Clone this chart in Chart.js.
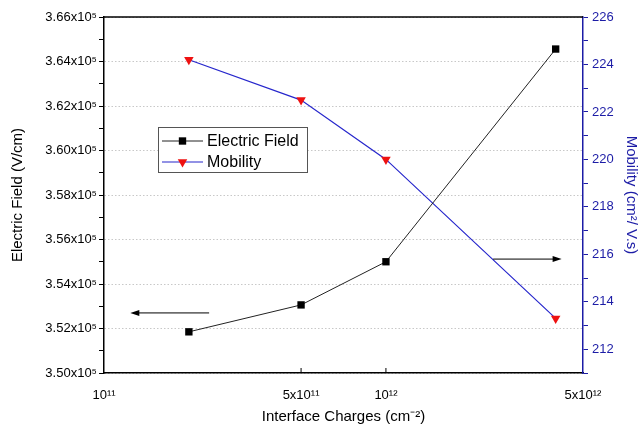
<!DOCTYPE html>
<html>
<head>
<meta charset="utf-8">
<script src="https://cdn.jsdelivr.net/npm/chart.js@4.4.1/dist/chart.umd.min.js"></script>
<style>
  html, body { margin: 0; padding: 0; background: #fff; }
</style>
</head>
<body>
<canvas id="myChart" width="640" height="437"></canvas>
<script>
// data
const charges = [2e11, 5e11, 1e12, 4e12];
const fieldValues = [351850, 353060, 355000, 364560];
const mobilityValues = [224.2, 222.5, 220.0, 213.3];

const xTicks = [1e11, 5e11, 1e12, 5e12];
const xTickLabels = ['10¹¹', '5x10¹¹', '10¹²', '5x10¹²'];
const fieldTicks = [350000, 352000, 354000, 356000, 358000, 360000, 362000, 364000, 366000];
const fieldTickLabels = ['3.50x10⁵', '3.52x10⁵', '3.54x10⁵', '3.56x10⁵', '3.58x10⁵', '3.60x10⁵', '3.62x10⁵', '3.64x10⁵', '3.66x10⁵'];
const mobilityTicks = [212, 214, 216, 218, 220, 222, 224, 226];
const mobilityTickLabels = ['212', '214', '216', '218', '220', '222', '224', '226'];

// arrows pointing to the axis each curve belongs to (data units)
const arrows = [
  { axis: 'y', from: [2.36e11, 352700], to: [1.24e11, 352700] },
  { axis: 'y2', from: [2.4e12, 215.8], to: [4.2e12, 215.8] }
];

const FONT = '"Liberation Sans", Arial, sans-serif';
const BLUE = '#1c1ca6';
Chart.defaults.font.family = FONT;

function drawMarker(ctx, ds, x, y) {
  ctx.fillStyle = ds.pointBackgroundColor;
  ctx.beginPath();
  if (ds.pointStyle === 'rect') {
    const s = ds.pointRadius * Math.SQRT1_2;
    ctx.rect(x - s, y - s, 2 * s, 2 * s);
  } else {
    const r = ds.pointRadius;
    ctx.moveTo(x, y + r);
    ctx.lineTo(x - r * 0.866, y - r / 2);
    ctx.lineTo(x + r * 0.866, y - r / 2);
    ctx.closePath();
  }
  ctx.fill();
}

const decorations = {
  id: 'decorations',
  afterDraw(chart) {
    const { ctx, chartArea: a, scales } = chart;
    ctx.save();
    // top frame line
    ctx.strokeStyle = '#000';
    ctx.lineWidth = 1.5;
    ctx.beginPath();
    ctx.moveTo(a.left, a.top);
    ctx.lineTo(a.right, a.top);
    ctx.stroke();
    // inward x ticks
    ctx.lineWidth = 1;
    ctx.beginPath();
    xTicks.slice(1, -1).forEach(v => {
      const px = scales.x.getPixelForValue(v);
      ctx.moveTo(px, a.bottom);
      ctx.lineTo(px, a.bottom - 5);
    });
    ctx.stroke();

    // arrows
    arrows.forEach(ar => {
      const x1 = scales.x.getPixelForValue(ar.from[0]);
      const x2 = scales.x.getPixelForValue(ar.to[0]);
      const y = scales[ar.axis].getPixelForValue(ar.from[1]);
      const dir = Math.sign(x2 - x1);
      ctx.strokeStyle = '#000';
      ctx.fillStyle = '#000';
      ctx.lineWidth = 1;
      ctx.beginPath();
      ctx.moveTo(x1, y);
      ctx.lineTo(x2 - dir * 6, y);
      ctx.stroke();
      ctx.beginPath();
      ctx.moveTo(x2, y);
      ctx.lineTo(x2 - dir * 9, y - 3);
      ctx.lineTo(x2 - dir * 9, y + 3);
      ctx.closePath();
      ctx.fill();
    });

    // legend box
    const bx = 158, by = 127, bw = 149, bh = 45;
    ctx.fillStyle = '#fff';
    ctx.fillRect(bx, by, bw, bh);
    ctx.strokeStyle = '#555';
    ctx.lineWidth = 1;
    ctx.strokeRect(bx + 0.5, by + 0.5, bw, bh);
    ctx.font = '16px ' + FONT;
    ctx.textBaseline = 'middle';
    ctx.textAlign = 'left';
    chart.data.datasets.forEach((ds, i) => {
      const ly = by + 14 + i * 21;
      ctx.strokeStyle = ds.borderColor;
      ctx.lineWidth = ds.borderWidth;
      ctx.beginPath();
      ctx.moveTo(bx + 4, ly);
      ctx.lineTo(bx + 45, ly);
      ctx.stroke();
      drawMarker(ctx, ds, bx + 24.5, ly);
      ctx.fillStyle = '#000';
      ctx.fillText(ds.label, bx + 49, ly + 1);
    });
    ctx.restore();
  }
};

new Chart(document.getElementById('myChart'), {
  type: 'line',
  data: {
    datasets: [{
      label: 'Electric Field',
      data: charges.map((c, i) => ({ x: c, y: fieldValues[i] })),
      yAxisID: 'y',
      borderColor: '#222',
      borderWidth: 1,
      pointStyle: 'rect',
      pointRadius: 5.2,
      pointBackgroundColor: '#000',
      pointBorderColor: '#000',
      pointBorderWidth: 0
    }, {
      label: 'Mobility',
      data: charges.map((c, i) => ({ x: c, y: mobilityValues[i] })),
      yAxisID: 'y2',
      borderColor: '#2626cc',
      borderWidth: 1.2,
      pointStyle: 'triangle',
      pointRotation: 180,
      pointRadius: 5.5,
      pointBackgroundColor: '#ee1111',
      pointBorderColor: '#ee1111',
      pointBorderWidth: 0
    }]
  },
  options: {
    responsive: false,
    animation: false,
    devicePixelRatio: 1,
    layout: { padding: { top: 17, left: 0, right: 0, bottom: 0 } },
    plugins: { legend: { display: false }, tooltip: { enabled: false } },
    scales: {
      x: {
        type: 'logarithmic',
        min: 1e11,
        max: 5e12,
        afterBuildTicks: s => { s.ticks = xTicks.map(v => ({ value: v })); },
        afterFit: s => { s.height = 64; },
        grid: { drawOnChartArea: false, drawTicks: false },
        border: { color: '#000', width: 1.5 },
        ticks: {
          autoSkip: false, maxRotation: 0, padding: 15, color: '#000',
          font: { size: 13 },
          callback: (v, i) => xTickLabels[i]
        },
        title: {
          display: true, text: 'Interface Charges (cm⁻²)', color: '#000',
          font: { size: 15 }, padding: { bottom: 11 }
        }
      },
      y: {
        position: 'left',
        min: 350000,
        max: 366000,
        afterFit: s => { s.width = 104; },
        grid: {
          color: c => fieldTicks.includes(c.tick.value) ? '#c8c8c8' : 'rgba(0,0,0,0)',
          tickColor: '#000', tickLength: 5, lineWidth: 1
        },
        border: { color: '#000', width: 1.5, dash: [1.5, 2] },
        ticks: {
          stepSize: 1000, autoSkip: false, padding: 2, color: '#000',
          font: { size: 13 },
          callback: v => { const k = fieldTicks.indexOf(v); return k >= 0 ? fieldTickLabels[k] : ''; }
        },
        title: {
          display: true, text: 'Electric Field (V/cm)', color: '#000',
          font: { size: 15 }, padding: { top: 9 }
        }
      },
      y2: {
        position: 'right',
        min: 211,
        max: 226,
        afterFit: s => { s.width = 57; },
        grid: { drawOnChartArea: false, tickColor: BLUE, tickLength: 5 },
        border: { color: BLUE, width: 1.5 },
        ticks: {
          stepSize: 1, autoSkip: false, padding: 4, color: BLUE,
          font: { size: 13 },
          callback: v => { const k = mobilityTicks.indexOf(v); return k >= 0 ? mobilityTickLabels[k] : ''; }
        },
        title: {
          display: true, text: 'Mobility (cm²/ V.s)', color: BLUE,
          font: { size: 15 }, padding: { top: 0 }
        }
      }
    }
  },
  plugins: [decorations]
});
</script>
</body>
</html>
